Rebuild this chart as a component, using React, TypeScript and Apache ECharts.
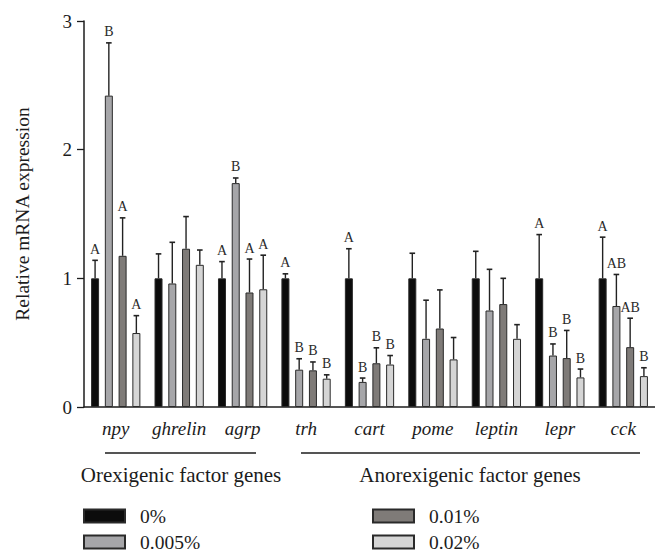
import React, { useEffect, useRef } from "react";
import * as echarts from "echarts";

const categories = ["npy", "ghrelin", "agrp", "trh", "cart", "pome", "leptin", "lepr", "cck"];
const seriesNames = ["0%", "0.005%", "0.01%", "0.02%"];

const mean0 = [1, 1, 1, 1, 1, 1, 1, 1, 1];
const mean1 = [2.42, 0.96, 1.74, 0.29, 0.195, 0.53, 0.75, 0.4, 0.785];
const mean2 = [1.175, 1.23, 0.89, 0.285, 0.34, 0.61, 0.8, 0.38, 0.465];
const mean3 = [0.575, 1.105, 0.915, 0.22, 0.33, 0.37, 0.53, 0.23, 0.24];

const sd0 = [0.14, 0.19, 0.13, 0.035, 0.23, 0.195, 0.21, 0.34, 0.32];
const sd1 = [0.41, 0.32, 0.04, 0.085, 0.03, 0.3, 0.32, 0.09, 0.245];
const sd2 = [0.295, 0.25, 0.26, 0.065, 0.12, 0.3, 0.2, 0.215, 0.225];
const sd3 = [0.135, 0.115, 0.265, 0.03, 0.07, 0.17, 0.11, 0.065, 0.065];

const letters0 = ["A", "", "A", "A", "A", "", "", "A", "A"];
const letters1 = ["B", "", "B", "B", "B", "", "", "B", "AB"];
const letters2 = ["A", "", "A", "B", "B", "", "", "B", "AB"];
const letters3 = ["A", "", "A", "B", "B", "", "", "B", "B"];

const yTicks = [0, 1, 2, 3];

const means = [mean0, mean1, mean2, mean3];
const sds = [sd0, sd1, sd2, sd3];
const letters = [letters0, letters1, letters2, letters3];
const colors = ["#0c0c0c", "#a6a6a9", "#7f7b78", "#d5d5d5"];

const FONT = "Liberation Serif, serif";
const INK = "#1c1c1c";
const BAR_W = 8;
const BAR_GAP = 0.72;

// legend slots: [left, top]
const legendSlots = [
  [83, 506],
  [83, 532],
  [372, 506],
  [372, 532],
];

export default function App() {
  const ref = useRef<HTMLDivElement>(null);

  useEffect(() => {
    if (!ref.current) return;
    const chart = echarts.init(ref.current, null, { renderer: "svg" });
    const gap = BAR_W * BAR_GAP;
    const total = BAR_W * 4 + gap * 3;
    const offsets = [0, 1, 2, 3].map((i) => -total / 2 + BAR_W / 2 + i * (BAR_W + gap));

    const bars = seriesNames.map((name, i) => ({
      name,
      type: "bar",
      barWidth: BAR_W,
      barGap: `${BAR_GAP * 100}%`,
      data: means[i],
      itemStyle: { color: colors[i], borderColor: "#2a2a2a", borderWidth: 1 },
      z: 2,
    }));

    const errs = seriesNames.map((name, i) => ({
      name: name + " error",
      type: "custom",
      z: 3,
      data: categories.map((_, j) => [j, means[i][j], means[i][j] + sds[i][j]]),
      encode: { x: 0, y: [1, 2] },
      renderItem: (params: any, api: any) => {
        const cat = api.value(0);
        const pMean = api.coord([cat, api.value(1)]);
        const pTop = api.coord([cat, api.value(2)]);
        const x = pMean[0] + offsets[i];
        const children: any[] = [
          {
            type: "line",
            shape: { x1: x, y1: pMean[1], x2: x, y2: pTop[1] },
            style: { stroke: "#222", lineWidth: 1.4 },
          },
          {
            type: "line",
            shape: { x1: x - 2.8, y1: pTop[1], x2: x + 2.8, y2: pTop[1] },
            style: { stroke: "#222", lineWidth: 1.6 },
          },
        ];
        const l = letters[i][params.dataIndex];
        if (l) {
          children.push({
            type: "text",
            style: {
              text: l,
              x,
              y: pTop[1] - 4,
              align: "center",
              verticalAlign: "bottom",
              font: "14px Liberation Serif",
              fill: "#2a2a2a",
            },
          });
        }
        return { type: "group", children };
      },
    }));

    const legends = seriesNames.map((name, i) => ({
      data: [name],
      left: legendSlots[i][0],
      top: legendSlots[i][1],
      padding: 0,
      itemWidth: 41,
      itemHeight: 13,
      icon: "rect",
      textStyle: { fontSize: 19.5, fontFamily: FONT, color: INK, lineHeight: 14, padding: [0, 0, 0, 10] },
    }));

    chart.setOption({
      animation: false,
      backgroundColor: "#ffffff",
      textStyle: { fontFamily: FONT },
      grid: { left: 84, right: -4, top: 21, bottom: 145, containLabel: false },
      legend: legends,
      xAxis: {
        type: "category",
        data: categories,
        axisLine: { lineStyle: { color: INK, width: 1.5 } },
        axisTick: { alignWithLabel: true, length: 7, lineStyle: { color: INK, width: 1.3 } },
        axisLabel: {
          fontSize: 19,
          fontStyle: "italic",
          fontFamily: FONT,
          color: INK,
          margin: 12,
          interval: 0,
        },
      },
      yAxis: {
        type: "value",
        min: yTicks[0],
        max: yTicks[yTicks.length - 1],
        interval: 1,
        name: "Relative mRNA expression",
        nameLocation: "middle",
        nameGap: 52,
        nameTextStyle: { fontSize: 19.5, fontFamily: FONT, color: INK },
        axisLine: { show: true, lineStyle: { color: INK, width: 1.5 } },
        axisTick: { show: true, length: 7, lineStyle: { color: INK, width: 1.3 } },
        axisLabel: { fontSize: 19, fontFamily: FONT, color: INK, margin: 12 },
        splitLine: { show: false },
      },
      graphic: [
        {
          type: "line",
          shape: { x1: 105, y1: 453, x2: 256, y2: 453 },
          style: { stroke: INK, lineWidth: 1.5 },
        },
        {
          type: "line",
          shape: { x1: 301, y1: 453, x2: 640, y2: 453 },
          style: { stroke: INK, lineWidth: 1.5 },
        },
        {
          type: "text",
          x: 181,
          y: 475,
          style: {
            text: "Orexigenic factor genes",
            align: "center",
            verticalAlign: "middle",
            fontSize: 21,
            fontFamily: FONT,
            fill: INK,
          },
        },
        {
          type: "text",
          x: 470,
          y: 475,
          style: {
            text: "Anorexigenic factor genes",
            align: "center",
            verticalAlign: "middle",
            fontSize: 21,
            fontFamily: FONT,
            fill: INK,
          },
        },
      ],
      series: [...bars, ...errs],
    });

    return () => chart.dispose();
  }, []);

  return (
    <div
      ref={ref}
      style={{ position: "fixed", left: 0, top: 0, width: 655, height: 552, background: "#fff" }}
    />
  );
}
